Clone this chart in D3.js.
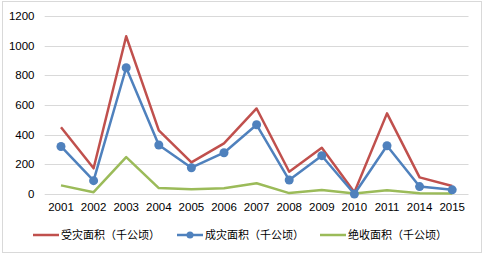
<!DOCTYPE html>
<html><head><meta charset="utf-8">
<script src="https://cdn.jsdelivr.net/npm/d3@7/dist/d3.min.js"></script>
<style>body{margin:0;background:#fff}svg{display:block}</style>
</head><body>
<script>
const years = ["2001","2002","2003","2004","2005","2006","2007","2008","2009","2010","2011","2014","2015"];
const affected = [450,173,1062,428,213,341,576,150,311,12,543,112,54];
const damaged = [320,90,850,330,177,278,466,94,258,0,325,50,28];
const lost = [58,12,248,40,32,38,72,6,27,4,26,5,3];
const yTicks = [0,200,400,600,800,1000,1200];
const seriesNames = ["受灾面积（千公顷）","成灾面积（千公顷）","绝收面积（千公顷）"];
const colors = ["#C0504D","#4F81BD","#9BBB59"];

const W=484,H=255;
const svg=d3.select("body").append("svg").attr("width",W).attr("height",H);
svg.append("rect").attr("x",2.5).attr("y",1.5).attr("width",479).attr("height",251)
  .attr("fill","#fff").attr("stroke","#d9d9d9").attr("stroke-width",1);

const x=d3.scaleBand().domain(years).range([44.7,468.5]);
const y=d3.scaleLinear().domain([0,1200]).range([194,15.8]);
const font="'Liberation Sans', Arial, sans-serif";

const g=svg.append("g");
g.selectAll(".grid").data(yTicks).join("line")
  .attr("x1",44.7).attr("x2",468.5).attr("y1",d=>Math.round(y(d))+0.5).attr("y2",d=>Math.round(y(d))+0.5)
  .attr("stroke","#d9d9d9").attr("stroke-width",1);

const yAxis=svg.append("g").attr("transform","translate(34.5,0)")
  .call(d3.axisLeft(y).tickValues(yTicks).tickSize(0).tickPadding(0).tickFormat(d3.format("d")));
yAxis.select(".domain").remove();
yAxis.selectAll("text").attr("font-family",font).attr("font-size",11.5).attr("fill","#000");

const xAxis=svg.append("g").attr("transform","translate(0,203)")
  .call(d3.axisBottom(x).tickSize(0).tickPadding(0));
xAxis.select(".domain").remove();
xAxis.selectAll("text").attr("font-family",font).attr("font-size",11.5).attr("fill","#000").attr("dy","0.71em");

const cx=d=>x(d)+x.bandwidth()/2;
const data=[affected,damaged,lost];
const line=d3.line().x((d,i)=>cx(years[i])).y(d=>y(d));
data.forEach((vals,k)=>{
  svg.append("path").datum(vals).attr("d",line).attr("fill","none")
    .attr("stroke",colors[k]).attr("stroke-width",2.5).attr("stroke-linejoin","round");
});
svg.selectAll(".dot").data(damaged).join("circle")
  .attr("cx",(d,i)=>cx(years[i])).attr("cy",d=>y(d)).attr("r",4.5).attr("fill",colors[1]);

const legX=[33,177,320];
seriesNames.forEach((n,k)=>{
  const lg=svg.append("g").attr("transform",`translate(${legX[k]},235)`);
  lg.append("line").attr("x1",0).attr("x2",26).attr("y1",0).attr("y2",0)
    .attr("stroke",colors[k]).attr("stroke-width",2.5);
  if(k===1) lg.append("circle").attr("cx",13).attr("cy",0).attr("r",3.5).attr("fill",colors[k]);
  lg.append("text").attr("x",28).attr("y",0).attr("dy","0.36em")
    .attr("font-family","'Noto Sans CJK SC', sans-serif").attr("font-size",11).attr("fill","#000").text(n);
});
</script>
</body></html>
